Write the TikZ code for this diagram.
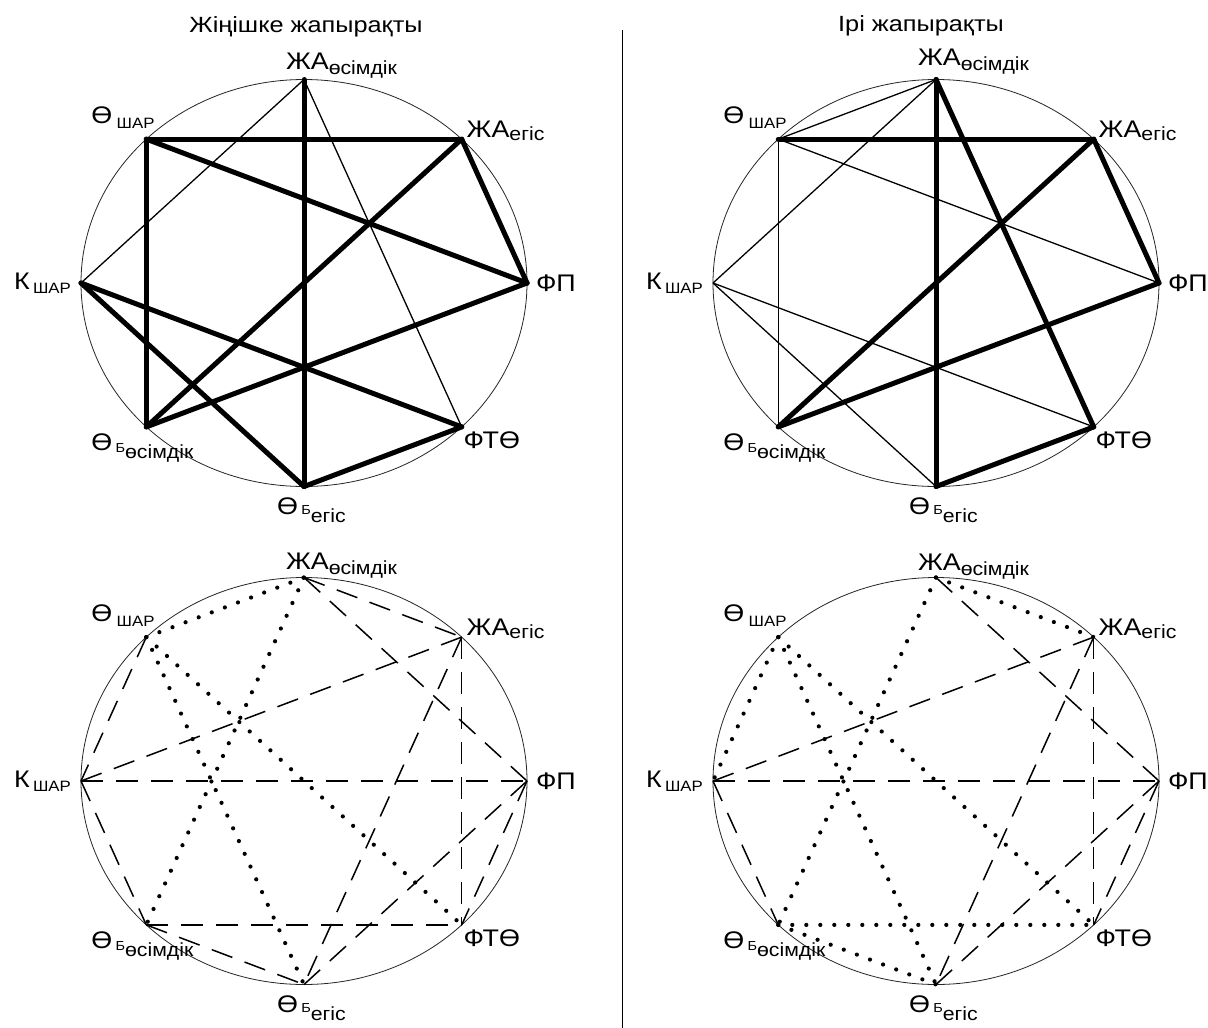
\documentclass[tikz,border=0pt]{standalone}
\usepackage{fontspec}
\setmainfont{Liberation Sans}
\newcommand\mainfs{\fontsize{24pt}{24pt}\selectfont}
\newcommand\subfs{\fontsize{19pt}{19pt}\selectfont}
\newcommand\shfs{\fontsize{15pt}{15pt}\selectfont}
\newcommand\bfs{\fontsize{13pt}{13pt}\selectfont}
\newcommand\titfs{\fontsize{22pt}{22pt}\selectfont}
\newcommand\widelabel[1]{\scalebox{1.12}[1]{#1}}
\newcommand\mkpanel[3]{%
  \coordinate (#1O) at (#2,#3);
  \draw[circ] (#1O) ellipse [x radius=223, y radius=203.5];
  \coordinate (#1A) at (#2, #3-203.5);
  \coordinate (#1B) at (#2+157.7, #3-143.9);
  \coordinate (#1C) at (#2+223, #3);
  \coordinate (#1D) at (#2+157.7, #3+143.9);
  \coordinate (#1E) at (#2, #3+203.5);
  \coordinate (#1F) at (#2-157.7, #3+143.9);
  \coordinate (#1G) at (#2-223, #3);
  \coordinate (#1H) at (#2-157.7, #3-143.9);
}
\newcommand\mklabels[2]{%
  \node[lbl] (#1LA) at ([shift={(-18,#2)}]#1A) {\widelabel{{\mainfs ЖА}\raisebox{-5pt}{\subfs өсімдік}}};
  \node[lbl] (#1LB) at ([shift={(5,-2)}]#1B) {\widelabel{{\mainfs ЖА}\raisebox{-3.5pt}{\subfs егіс}}};
  \node[lbl] (#1LC) at ([shift={(9,8)}]#1C) {\widelabel{\mainfs ФП}};
  \node[lbl] (#1LD) at ([shift={(2,22)}]#1D) {\widelabel{\mainfs ФТӨ}};
  \node[lbl] (#1LE) at ([shift={(-27,28)}]#1E) {\widelabel{{\mainfs Ө}\hspace{3pt}{\bfs Б}\raisebox{-8pt}{\subfs егіс}}};
  \node[lbl] (#1LF) at ([shift={(-55,24)}]#1F) {\widelabel{{\mainfs Ө}\hspace{3pt}\raisebox{-2pt}{\bfs Б}\raisebox{-8pt}{\subfs өсімдік}}};
  \node[lbl] (#1LG) at ([shift={(-67,6)}]#1G) {\widelabel{{\mainfs К}\hspace{3pt}\raisebox{-4pt}{\shfs ШАР}}};
  \node[lbl] (#1LH) at ([shift={(-55,-16)}]#1H) {\widelabel{{\mainfs Ө}\hspace{4pt}\raisebox{-5pt}{\shfs ШАР}}};
}
\begin{document}
\begin{tikzpicture}[x=1pt,y=-1pt,
  circ/.style={line width=0.8pt, draw=black!85},
  thk/.style={line width=5pt, line cap=round, line join=round},
  thn/.style={line width=1.3pt},
  dsh/.style={line width=1.5pt, dash pattern=on 22pt off 13pt},
  dtt/.style={line width=4.2pt, line cap=round, dash pattern=on 0pt off 14pt},
  lbl/.style={inner sep=0pt, outer sep=0pt, anchor=base west},
]
\useasboundingbox[fill=white] (0,0) rectangle (1208,1028);

% titles and divider
\node[inner sep=0pt] (t1) at (306,27) {\scalebox{1.15}[1]{\titfs Жіңішке жапырақты}};
\node[inner sep=0pt] (t2) at (921,26) {\scalebox{1.15}[1]{\titfs Ірі жапырақты}};
\coordinate (dv1) at (622,30);
\coordinate (dv2) at (622,1028);
\draw[line width=1pt] (dv1) -- (dv2);

% panels
\mkpanel{p}{304}{283}
\mkpanel{q}{936}{283}
\mkpanel{r}{304}{781}
\mkpanel{s}{936}{781}

% top-left
\foreach \u/\v in {A/E, H/B, H/F, H/C, B/C, B/F, C/F, G/D, G/E, D/E}
  \draw[thk] (p\u) -- (p\v);
\foreach \u/\v in {G/A, A/D}
  \draw[thn] (p\u) -- (p\v);

% top-right
\foreach \u/\v in {A/E, H/B, A/D, B/C, B/F, C/F, D/E}
  \draw[thk] (q\u) -- (q\v);
\foreach \u/\v in {H/A, G/A, H/F, H/C, G/D, G/E}
  \draw[thn] (q\u) -- (q\v);

% bottom-left
\foreach \u/\v in {A/B, A/C, G/B, G/C, B/D, B/E, C/E, C/D, H/G, G/F, F/D, F/E}
  \draw[dsh] (r\u) -- (r\v);
\foreach \u/\v in {H/A, A/F, H/D, H/E}
  \draw[dtt] (r\u) -- (r\v);

% bottom-right
\foreach \u/\v in {A/C, G/B, G/C, B/D, B/E, C/E, C/D, G/F}
  \draw[dsh] (s\u) -- (s\v);
\foreach \u/\v in {A/B, A/F, H/G, H/D, H/E, F/D, F/E}
  \draw[dtt] (s\u) -- (s\v);

% labels
\mklabels{p}{-10}
\mklabels{q}{-14}
\mklabels{r}{-8}
\mklabels{s}{-7}
\end{tikzpicture}
\end{document}
